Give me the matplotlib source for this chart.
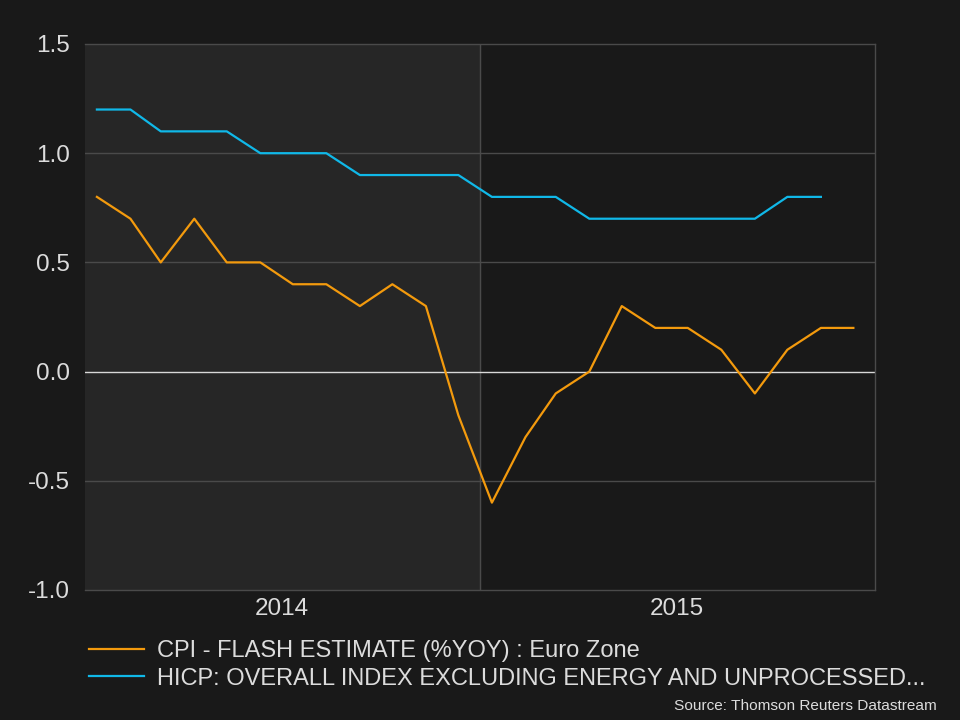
import pandas as pd
import matplotlib.pyplot as plt

plt.rcParams['font.family'] = ['Liberation Sans', 'DejaVu Sans']

# monthly observations, Jan 2014 - Dec 2015 (plotted around mid-month)
fechas = pd.date_range("2014-01-01", periods=24, freq="MS") + pd.Timedelta(days=11)
cpi = [0.8, 0.7, 0.5, 0.7, 0.5, 0.5, 0.4, 0.4, 0.3, 0.4, 0.3, -0.2,
       -0.6, -0.3, -0.1, 0.0, 0.3, 0.2, 0.2, 0.1, -0.1, 0.1, 0.2, 0.2]
hicp = [1.2, 1.2, 1.1, 1.1, 1.1, 1.0, 1.0, 1.0, 0.9, 0.9, 0.9, 0.9,
        0.8, 0.8, 0.8, 0.7, 0.7, 0.7, 0.7, 0.7, 0.7, 0.8, 0.8]
etiquetas = ["CPI - FLASH ESTIMATE (%YOY) : Euro Zone",
             "HICP: OVERALL INDEX EXCLUDING ENERGY AND UNPROCESSED..."]
anios = ["2014", "2015"]

fondo = "#191919"
texto = "#dcdcdc"
gris = "#4a4a4a"

fig = plt.figure(figsize=(9.6, 7.2), dpi=100, facecolor=fondo)
ax = fig.add_axes([85 / 960, 1 - 590 / 720, 790 / 960, 546 / 720])
ax.set_facecolor(fondo)

inicio = pd.Timestamp("2014-01-01")
medio = pd.Timestamp("2015-01-01")
fin = pd.Timestamp("2016-01-01")
ax.axvspan(inicio, medio, color="#262626", zorder=0)
ax.axvline(medio, color=gris, lw=1, zorder=1)

for y in [-0.5, 0.5, 1.0]:
    ax.axhline(y, color=gris, lw=1, zorder=1)
ax.axhline(0, color="#d8d8d8", lw=1, zorder=1)

ax.plot(fechas, cpi, color="#f39a0d", lw=1.6, label=etiquetas[0], zorder=3)
ax.plot(fechas[:len(hicp)], hicp, color="#10b8e8", lw=1.6, label=etiquetas[1], zorder=3)

ax.set_xlim(inicio, fin)
ax.set_ylim(-1.0, 1.5)
ax.set_yticks([-1.0, -0.5, 0.0, 0.5, 1.0, 1.5])
ax.set_yticklabels(["-1.0", "-0.5", "0.0", "0.5", "1.0", "1.5"])
ax.set_xticks([pd.Timestamp("2014-07-02"), pd.Timestamp("2015-07-02")])
ax.set_xticklabels(anios)
ax.tick_params(axis="both", length=0, colors=texto, labelsize=17.5)
ax.tick_params(axis="y", pad=11)
ax.tick_params(axis="x", pad=6)

for lado in ["top", "right", "bottom"]:
    ax.spines[lado].set_color(gris)
    ax.spines[lado].set_linewidth(1)
ax.spines["left"].set_visible(False)

fig.legend(loc="upper left", bbox_to_anchor=(80 / 960, 1 - 631 / 720), frameon=False,
           fontsize=17, labelcolor=texto, handlelength=2.3, handletextpad=0.55,
           labelspacing=0.22, borderaxespad=0)

fig.text(937 / 960, 1 - 706 / 720, "Source: Thomson Reuters Datastream", color=texto,
         fontsize=11.1, ha="right", va="center")

fig.savefig("out.png", dpi=100, facecolor=fondo)
